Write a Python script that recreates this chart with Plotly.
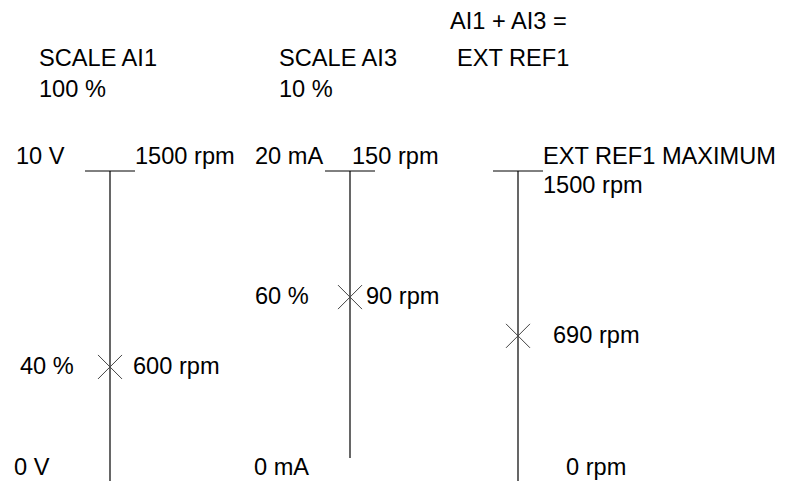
import plotly.graph_objects as go

# ---- data ----
columns = ["AI1", "AI3", "EXT REF1"]
header_lines = [["SCALE AI1", "100 %"], ["SCALE AI3", "10 %"], ["AI1 + AI3 =", "EXT REF1"]]
top_labels_left = ["10 V", "20 mA", ""]
top_labels_right = ["1500 rpm", "150 rpm", "EXT REF1 MAXIMUM"]
top_extra = ["", "", "1500 rpm"]
bottom_labels = ["0 V", "0 mA", "0 rpm"]
marker_pct_labels = ["40 %", "60 %", ""]
marker_rpm_labels = ["600 rpm", "90 rpm", "690 rpm"]
# marker level on each scale, in % of the drawn scale height
marker_levels = [33.8, 57.4, 44.3]
# bottom end of each vertical scale line, in % of scale height
line_bottom_levels = [-4.7, 3.0, -4.7]

# ---- layout constants (page pixels / diagram coordinates) ----
PAGE_W, PAGE_H = 791, 481
OFF = 8  # browser body margin
W, H = PAGE_W - OFF, PAGE_H - OFF
PX_PER_UNIT = 2.96
TOP_PX = 171
def lvl(p):  # page pixel row -> level units
    return 100 - (p - TOP_PX) / PX_PER_UNIT

col_x = [110, 350, 518]
tick_half = 25
FONT = dict(family="Liberation Sans, Arial, sans-serif", size=23.6, color="black")

fig = go.Figure()

for i, cx in enumerate(col_x):
    fig.add_trace(go.Scatter(x=[cx - tick_half, cx + tick_half], y=[100, 100], mode="lines",
                             line=dict(color="black", width=1), hoverinfo="skip", showlegend=False))
    fig.add_trace(go.Scatter(x=[cx, cx], y=[100, line_bottom_levels[i]], mode="lines",
                             line=dict(color="black", width=1.2), hoverinfo="skip", showlegend=False))
    fig.add_trace(go.Scatter(x=[cx], y=[marker_levels[i]], mode="markers",
                             marker=dict(symbol="x-thin", size=24, line=dict(color="#444", width=1)),
                             hoverinfo="skip", showlegend=False))

def label(x, ypx, text):
    if not text:
        return
    fig.add_annotation(x=x, y=lvl(ypx), text=text, showarrow=False, xanchor="left",
                       yanchor="middle", font=FONT, xref="x", yref="y", borderpad=0)

header_x = [38, 278, 449]
header_y = [[58, 89], [58, 89], [21, 58]]
header_x2 = [38, 278, 456]
for i in range(3):
    label(header_x[i], header_y[i][0], header_lines[i][0])
    label(header_x2[i], header_y[i][1], header_lines[i][1])

tl_x = [15, 254, 0]
tr_x = [134, 351, 542]
for i in range(3):
    label(tl_x[i], 156, top_labels_left[i])
    label(tr_x[i], 156, top_labels_right[i])
    label(tr_x[i], 185, top_extra[i])

pct_x = [19, 254, 0]
rpm_x = [132, 365, 552]
for i in range(3):
    ypx = TOP_PX + (100 - marker_levels[i]) * PX_PER_UNIT
    label(pct_x[i], ypx - 1, marker_pct_labels[i])
    label(rpm_x[i], ypx - 1, marker_rpm_labels[i])

bot_x = [13, 253, 565]
for i in range(3):
    label(bot_x[i], 467, bottom_labels[i])

fig.update_layout(
    width=W, height=H, margin=dict(l=0, r=0, t=0, b=0),
    paper_bgcolor="white", plot_bgcolor="white",
    xaxis=dict(range=[OFF, PAGE_W], visible=False, fixedrange=True),
    yaxis=dict(range=[lvl(PAGE_H), lvl(OFF)], visible=False, fixedrange=True),
    showlegend=False,
)
fig.write_html("out.html")
